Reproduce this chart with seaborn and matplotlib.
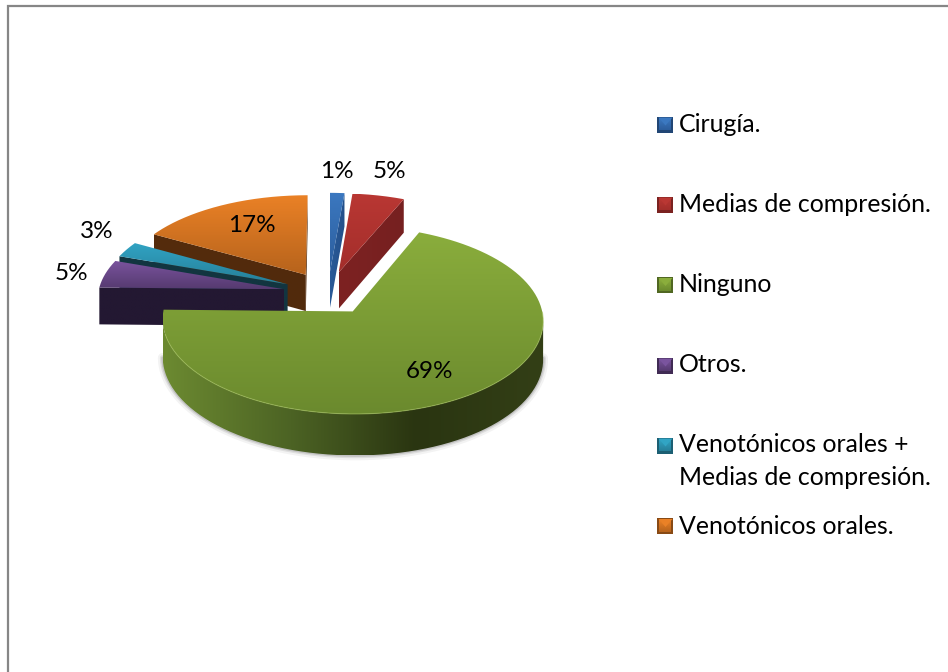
import numpy as np
import seaborn as sns
import matplotlib
matplotlib.use("Agg")
import matplotlib.pyplot as plt
from matplotlib.patches import PathPatch
from matplotlib.path import Path

# values (unrounded a bit so the slice angles fit)
categories = ["Cirugía.", "Medias de compresión.", "Ninguno", "Otros.",
              "Venotónicos orales +\nMedias de compresión.", "Venotónicos orales."]
values = [1.4, 5.0, 68.9, 5.0, 2.8, 16.9]
labels = ["1%", "5%", "69%", "5%", "3%", "17%"]

# gradient of the top faces, top to bottom
top_cols = [["#3b78c0", "#2c5d9c"], ["#b93733", "#a32e2b"], ["#8aad3c", "#6b8a2e"],
            ["#7a549e", "#563a70"], ["#31a4c4", "#267f99"], ["#ea8126", "#b6631c"]]
# side walls, left to right
wall_cols = [["#2a5a98", "#23508a"], ["#7d2222", "#762020"],
             ["#6c8a31", "#4c6324", "#2a3511", "#333f16"],
             ["#231832", "#231832"], ["#123540", "#123540"], ["#552c0c", "#512a0c"]]
label_xy = [(337, 172), (389, 172), (430, 372), (71, 273), (97, 232), (252, 226)]
legend_y = [124.5, 204.5, 285, 365.5, 445.5, 526]
text_y = [124, 204, 285, 365, 461, 526]

CX, CY = 328, 293
RX, RY = 186, 89.8
K = 0.09
DEPTH = 37
EXPLODE = 0.24

sns.set_theme(style="white")
plt.rcParams["font.family"] = ["Lato", "DejaVu Sans"]


def project(x, y):
    s = 1 / (1 + K * y)
    return CX + RX * x * s, CY - RY * y * s, DEPTH * s


def gradient(ax, cols, box, z, vertical=True):
    grad = np.array(sns.blend_palette(cols, n_colors=128))[:, :3]
    grad = grad.reshape(128, 1, 3) if vertical else grad.reshape(1, 128, 3)
    return ax.imshow(grad, extent=[box[0], box[1], box[3], box[2]], origin="upper",
                     aspect="auto", zorder=z, interpolation="bilinear")


fig = plt.figure(figsize=(9.48, 6.72), dpi=100)
ax = fig.add_axes([0, 0, 1, 1])

# pie gives the slice geometry, the 3d look is projected from it
wedges, _ = ax.pie(values, explode=[EXPLODE] * len(values), startangle=90,
                   counterclock=False, radius=1, frame=True)
for w in wedges:
    w.set_visible(False)

ax.set_aspect("auto")
ax.set_xlim(0, 948)
ax.set_ylim(672, 0)
ax.set_xticks([])
ax.set_yticks([])
for s in ax.spines.values():
    s.set_visible(False)

# frame of the chart
ax.plot([8.5, 8.5, 948], [672, 5.5, 5.5], color="#868686", lw=1.6, solid_joinstyle="miter", zorder=1)

# draw order: back slices first, green last
order = [5, 4, 3, 0, 1, 2]
z = 5
for i in order:
    w = wedges[i]
    cx, cy = w.center
    th = np.radians(np.linspace(w.theta1, w.theta2, 200))
    ux = np.r_[cx, cx + w.r * np.cos(th)]
    uy = np.r_[cy, cy + w.r * np.sin(th)]
    px, py, d = project(ux, uy)

    # only the walls that face the viewer, joined into runs
    n = len(px)
    runs = []
    cur = []
    for k in range(n):
        j = (k + 1) % n
        if px[j] > px[k]:
            if not cur:
                cur = [k]
            cur.append(j)
        elif cur:
            runs.append(cur)
            cur = []
    if cur:
        runs.append(cur)

    for run in runs:
        rx = px[run]
        top = py[run]
        bot = (py + d)[run]
        poly = np.r_[np.c_[rx, top], np.c_[rx, bot][::-1]]
        # soft shadow under the big slice
        if i == 2:
            for lw, a in [(7, 0.07), (4, 0.13), (2, 0.2)]:
                ax.plot(rx, bot, color="#555555", lw=lw, alpha=a, zorder=z)
            z += 1
        im = gradient(ax, wall_cols[i], (rx.min(), rx.max(), poly[:, 1].min(), poly[:, 1].max()), z, vertical=False)
        im.set_clip_path(PathPatch(Path(poly), transform=ax.transData))
        z += 1

    # top face, gradient clipped to the slice
    im = gradient(ax, top_cols[i], (px.min(), px.max(), py.min(), py.max()), z)
    im.set_clip_path(PathPatch(Path(np.c_[px, py]), transform=ax.transData))
    z += 1

    if i == 2:
        # light rim along the front edge
        front = (uy[1:] < cy) & (px[1:] > px.min() + 2)
        ax.plot(px[1:][front], py[1:][front], color="#9dbb55", lw=0.8, alpha=0.6, zorder=z)
        z += 1

for (x, y), t in zip(label_xy, labels):
    ax.text(x, y, t, ha="center", va="center", fontsize=17.5, color="black", zorder=50)

# legend, swatches with a small bevel
S = 8
for i, name in enumerate(categories):
    xc, yc = 665.5, legend_y[i]
    edge = sns.blend_palette([top_cols[i][1], "#000000"], n_colors=5)[1]
    ax.fill([xc - S, xc + S, xc + S, xc - S], [yc - S, yc - S, yc + S, yc + S], color=edge, lw=0, zorder=50)
    gradient(ax, [top_cols[i][0], top_cols[i][1]], (xc - S + 2, xc + S - 2, yc - S + 2, yc + S - 2), 51)
    ax.fill([xc - S + 1, xc + S - 1, xc], [yc - S + 1, yc - S + 1, yc + 1],
            color=top_cols[i][0], lw=0, zorder=52)
    ax.text(679, text_y[i], name, ha="left", va="center", fontsize=17.9, color="black",
            linespacing=1.55, zorder=52)

ax.set_xlim(0, 948)
ax.set_ylim(672, 0)

fig.savefig("out.png", dpi=100)
